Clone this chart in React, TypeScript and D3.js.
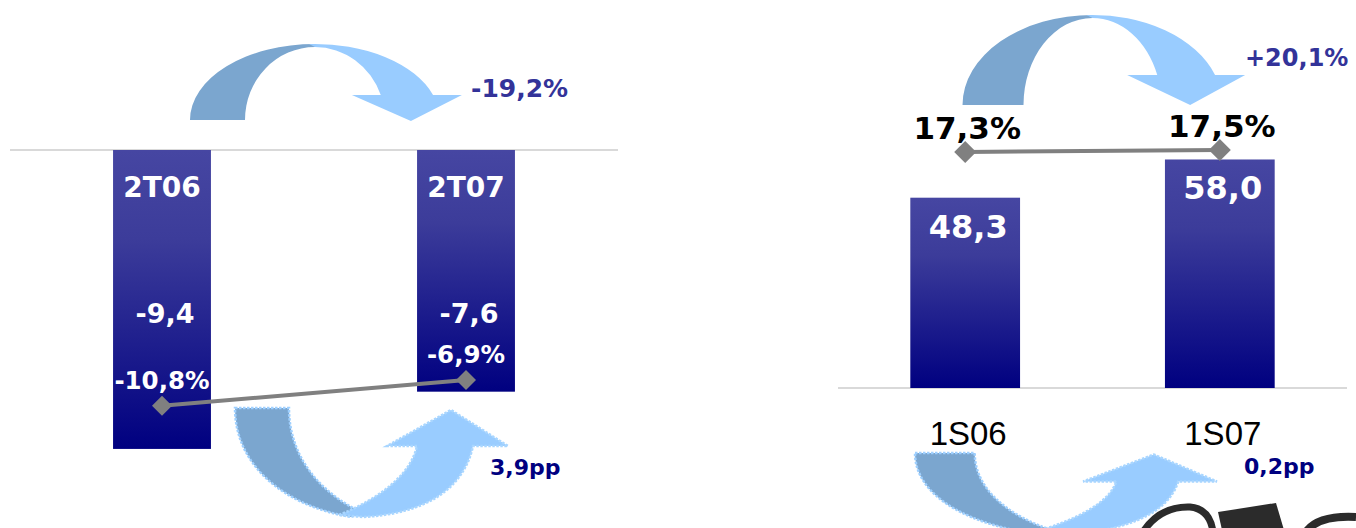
import * as d3 from "d3";

// left panel (quarterly, negative values)
const leftCats = ["2T06", "2T07"];
const leftValues = [-9.4, -7.6];
const leftRates = [-10.8, -6.9];
const leftChange = "-19,2%";
const leftRateChange = "3,9pp";

// right panel (half-year)
const rightCats = ["1S06", "1S07"];
const rightValues = [48.3, 58.0];
const rightRates = [17.3, 17.5];
const rightChange = "+20,1%";
const rightRateChange = "0,2pp";

const W = 1356;
const H = 528;
const FONT = "'DejaVu Sans', Verdana, sans-serif";
const DARK_ARROW = "#7BA6CF";
const LIGHT_ARROW = "#99CCFF";

const pt = d3.formatLocale({
  decimal: ",",
  thousands: ".",
  grouping: [3],
  currency: ["", ""],
  minus: "-",
});
const fmt = pt.format(".1f");

// curved "down" arrow above the bars: dark back half, light front half with head
function topArrow(cx: number, cy: number, rox: number, roy: number, rix: number, riy: number, headY: number, headHalf: number, tipY: number) {
  const dark = `M${cx - rox},${cy} A${rox},${roy} 0 0 1 ${cx},${cy - roy} L${cx},${cy - riy} A${rix},${riy} 0 0 0 ${cx - rix},${cy} Z`;
  const dy = cy - headY;
  const xo = cx + rox * Math.sqrt(1 - (dy / roy) ** 2);
  const xi = cx + rix * Math.sqrt(1 - (dy / riy) ** 2);
  const hc = (xo + xi) / 2;
  const light =
    `M${cx - 6},${cy - roy} A${rox},${roy} 0 0 1 ${xo},${headY} ` +
    `L${hc + headHalf},${headY} L${hc + 4},${tipY} L${hc - headHalf},${headY} L${xi},${headY} ` +
    `A${rix},${riy} 0 0 0 ${cx},${cy - riy} Z`;
  return { dark, light };
}

// curved "up" arrow below the bars, local coords
const upDark = "M0,0 L54,0 C54,48 84,84 126,104 L116,109 C50,98 0,58 0,0 Z";
const upLight =
  "M104,107 C146,90 176,66 182,38 L152,38 L216,2 L273,38 L238,38 C228,84 186,106 128,109 Z";

function UpArrow({ x, y, sx, sy }: { x: number; y: number; sx: number; sy: number }) {
  return (
    <g transform={`translate(${x},${y}) scale(${sx},${sy})`}>
      <path d={upDark} fill={DARK_ARROW} stroke="#9fd0ff" strokeWidth={2.5} strokeDasharray="2.5 1.5" vectorEffect="non-scaling-stroke" />
      <path d={upLight} fill={LIGHT_ARROW} stroke="#a9d6ff" strokeWidth={2.5} strokeDasharray="2.5 1.5" vectorEffect="non-scaling-stroke" />
    </g>
  );
}

function diamond(x: number, y: number, r: number) {
  return `M${x},${y - r} L${x + r},${y} L${x},${y + r} L${x - r},${y} Z`;
}

export default function App() {
  // ---- left panel scales
  const xL = d3.scaleBand<string>().domain(leftCats).range([10, 618]).paddingInner(0.678).paddingOuter(0.339);
  const yL = d3.scaleLinear().domain([0, -10]).range([150, 468]);
  const y2L = d3.scaleLinear().domain([0, -20]).range([334, 467]);
  const cL = (c: string) => (xL(c) as number) + xL.bandwidth() / 2;

  // ---- right panel scales
  const xR = d3.scaleBand<string>().domain(rightCats).range([838, 1347]).paddingInner(0.569).paddingOuter(0.284);
  const yR = d3.scaleLinear().domain([0, 60]).range([388, 151.6]);
  const y2R = d3.scaleLinear().domain([0, 20]).range([325, 125]);
  const cR = (c: string) => (xR(c) as number) + xR.bandwidth() / 2;

  const line = d3.line<[number, number]>();

  const leftPts: [number, number][] = leftCats.map((c, i) => [cL(c), y2L(leftRates[i])]);
  const rightPts: [number, number][] = rightCats.map((c, i) => [cR(c), y2R(rightRates[i])]);

  const midL = (cL(leftCats[0]) + cL(leftCats[1])) / 2;
  const midR = (cR(rightCats[0]) + cR(rightCats[1])) / 2;
  const arrL = topArrow(midL + 1, yL(0) - 30, 125, 76, 70, 73, yL(0) - 55, 55, yL(0) - 29);
  const arrR = topArrow(midR, yR(0) - 283, 130, 90, 69, 87, yR(0) - 313, 59, yR(0) - 283);

  return (
    <svg width={W} height={H} style={{ position: "fixed", left: 0, top: 0, background: "#fff" }} fontFamily={FONT}>
      <defs>
        <linearGradient id="barGrad" x1="0" y1="0" x2="0" y2="1">
          <stop offset="0" stopColor="#4646A2" />
          <stop offset="0.3" stopColor="#3C3C9A" />
          <stop offset="1" stopColor="#000080" />
        </linearGradient>
      </defs>

      {/* ===== left panel ===== */}
      <line x1={10} x2={618} y1={yL(0)} y2={yL(0)} stroke="#D9D9D9" strokeWidth={2} />
      {leftCats.map((c, i) => (
        <rect key={c} x={xL(c)} y={yL(0)} width={xL.bandwidth()} height={yL(leftValues[i]) - yL(0)} fill="url(#barGrad)" />
      ))}
      {leftCats.map((c) => (
        <text key={c} x={cL(c)} y={yL(0) + 47} textAnchor="middle" fill="#fff" fontWeight="bold" fontSize={28}>
          {c}
        </text>
      ))}
      {leftCats.map((c, i) => (
        <text key={c} x={cL(c) + 3} y={yL(0) + 173} textAnchor="middle" fill="#fff" fontWeight="bold" fontSize={27}>
          {fmt(leftValues[i])}
        </text>
      ))}
      {leftCats.map((c, i) => (
        <text key={c} x={cL(c)} y={y2L(leftRates[i]) - 17} textAnchor="middle" fill="#fff" fontWeight="bold" fontSize={24.5}>
          {fmt(leftRates[i]) + "%"}
        </text>
      ))}
      <path d={line(leftPts) as string} stroke="#808080" strokeWidth={4} fill="none" />
      {leftPts.map(([x, y], i) => (
        <path key={i} d={diamond(x, y, 10)} fill="#808080" />
      ))}

      <path d={arrL.dark} fill={DARK_ARROW} />
      <path d={arrL.light} fill={LIGHT_ARROW} />
      <text x={471} y={97} fill="#333399" fontWeight="bold" fontSize={25}>
        {leftChange}
      </text>

      <UpArrow x={235} y={408} sx={1} sy={1} />
      <text x={490} y={475} fill="#000080" fontWeight="bold" fontSize={22}>
        {leftRateChange}
      </text>

      {/* ===== right panel ===== */}
      <line x1={838} x2={1347} y1={yR(0)} y2={yR(0)} stroke="#D9D9D9" strokeWidth={2} />
      {rightCats.map((c, i) => (
        <rect key={c} x={xR(c)} y={yR(rightValues[i])} width={xR.bandwidth()} height={yR(0) - yR(rightValues[i])} fill="url(#barGrad)" />
      ))}
      {rightCats.map((c, i) => (
        <text key={c} x={cR(c) + 3} y={yR(rightValues[i]) + 40} textAnchor="middle" fill="#fff" fontWeight="bold" fontSize={32}>
          {fmt(rightValues[i])}
        </text>
      ))}
      {rightCats.map((c) => (
        <text key={c} x={cR(c) + 3} y={yR(0) + 57} textAnchor="middle" fill="#000" fontFamily="'Liberation Sans', Arial, sans-serif" fontSize={33}>
          {c}
        </text>
      ))}
      {rightCats.map((c, i) => (
        <text key={c} x={cR(c) + 2} y={y2R(rightRates[i]) - 13} textAnchor="middle" fill="#000" fontWeight="bold" fontSize={31}>
          {fmt(rightRates[i]) + "%"}
        </text>
      ))}
      <path d={line(rightPts) as string} stroke="#808080" strokeWidth={4} fill="none" />
      {rightPts.map(([x, y], i) => (
        <path key={i} d={diamond(x, y, 11)} fill="#808080" />
      ))}

      <path d={arrR.dark} fill={DARK_ARROW} />
      <path d={arrR.light} fill={LIGHT_ARROW} />
      <text x={1245} y={66} fill="#333399" fontWeight="bold" fontSize={24}>
        {rightChange}
      </text>

      <UpArrow x={915} y={453} sx={1.106} sy={0.75} />
      <text x={1244} y={474} fill="#000080" fontWeight="bold" fontSize={22}>
        {rightRateChange}
      </text>

      {/* partial logo at the bottom edge */}
      <g fill="#2b2b2b" stroke="#2b2b2b">
        <path d="M1143,532 Q1160,506 1190,507 Q1210,509 1213,532" fill="none" strokeWidth={7} />
        <path d="M1218,512 L1276,503 L1284,530 L1222,530 Z" strokeWidth={0} />
        <path d="M1306,532 Q1318,515 1356,517" fill="none" strokeWidth={8} />
      </g>
    </svg>
  );
}
